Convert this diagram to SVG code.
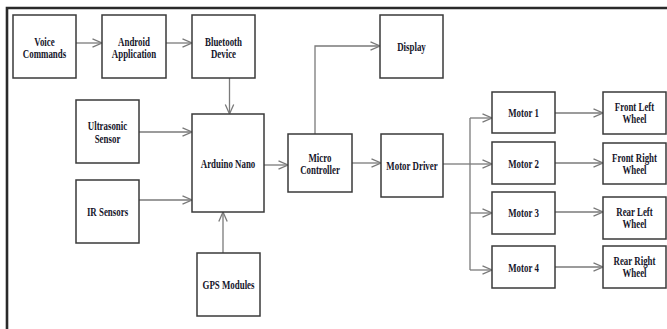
<svg xmlns="http://www.w3.org/2000/svg" width="667" height="329" viewBox="0 0 667 329">
<style>
.box{fill:#fff;stroke:#3a3a3a;stroke-width:1.5}
.lbl{font-family:"Liberation Serif","Times New Roman",serif;font-weight:bold;font-size:12px;fill:#15152a;text-anchor:middle}
.con{fill:none;stroke:#7a7a7a;stroke-width:1.3}
.arr{marker-end:url(#ah)}
</style>
<defs>
<marker id="ah" markerUnits="userSpaceOnUse" markerWidth="12" markerHeight="12" viewBox="0 0 12 12" refX="10.5" refY="6" orient="auto">
<path d="M1,1.8 L10.5,6 L1,10.2" fill="none" stroke="#7a7a7a" stroke-width="1.3"/>
</marker>
</defs>
<rect x="0" y="0" width="667" height="329" fill="#fff"/>
<path d="M7,329 V8 H667" fill="none" stroke="#2a2a2a" stroke-width="2.6"/>

<g id="connectors">
<line class="con arr" x1="76" y1="43" x2="102" y2="43"/>
<line class="con arr" x1="166" y1="43" x2="192" y2="43"/>
<line class="con arr" x1="229.5" y1="78" x2="229.5" y2="114"/>
<line class="con arr" x1="139" y1="132" x2="192" y2="132"/>
<line class="con arr" x1="139" y1="200" x2="192" y2="200"/>
<line class="con arr" x1="223" y1="253" x2="223" y2="212"/>
<line class="con arr" x1="264" y1="165" x2="288" y2="165"/>
<polyline class="con arr" points="315,134 315,46 380,46"/>
<line class="con arr" x1="352" y1="163" x2="381" y2="163"/>
<line class="con" x1="443" y1="164" x2="470" y2="164"/>
<line class="con" x1="470" y1="118" x2="470" y2="270"/>
<line class="con arr" x1="470" y1="118" x2="492" y2="118"/>
<line class="con arr" x1="470" y1="164" x2="492" y2="164"/>
<line class="con arr" x1="470" y1="213" x2="492" y2="213"/>
<line class="con arr" x1="470" y1="270" x2="492" y2="270"/>
<line class="con arr" x1="555" y1="113" x2="603" y2="113"/>
<line class="con arr" x1="555" y1="163" x2="603" y2="163"/>
<line class="con arr" x1="555" y1="212" x2="603" y2="212"/>
<line class="con arr" x1="555" y1="267" x2="603" y2="267"/>
</g>

<g id="voice"><rect class="box" x="13" y="15" width="63" height="63"/><text class="lbl" transform="matrix(0.74 0 0 1 44.5 45.5)">Voice</text><text class="lbl" transform="matrix(0.74 0 0 1 44.5 58)">Commands</text></g>
<g id="android"><rect class="box" x="102" y="15" width="64" height="63"/><text class="lbl" transform="matrix(0.74 0 0 1 134 45.5)">Android</text><text class="lbl" transform="matrix(0.74 0 0 1 134 58)">Application</text></g>
<g id="bluetooth"><rect class="box" x="192" y="15" width="63" height="63"/><text class="lbl" transform="matrix(0.74 0 0 1 223.5 45.5)">Bluetooth</text><text class="lbl" transform="matrix(0.74 0 0 1 223.5 58)">Device</text></g>
<g id="display"><rect class="box" x="380" y="15" width="63" height="63"/><text class="lbl" transform="matrix(0.74 0 0 1 411.5 51)">Display</text></g>
<g id="ultrasonic"><rect class="box" x="76" y="100" width="63" height="63"/><text class="lbl" transform="matrix(0.74 0 0 1 107.5 130)">Ultrasonic</text><text class="lbl" transform="matrix(0.74 0 0 1 107.5 142.5)">Sensor</text></g>
<g id="ir"><rect class="box" x="76" y="180" width="63" height="63"/><text class="lbl" transform="matrix(0.74 0 0 1 107.5 216)">IR Sensors</text></g>
<g id="arduino"><rect class="box" x="192" y="114" width="72" height="98"/><text class="lbl" transform="matrix(0.74 0 0 1 228 168)">Arduino Nano</text></g>
<g id="gps"><rect class="box" x="197" y="253" width="63" height="63"/><text class="lbl" transform="matrix(0.74 0 0 1 228.5 289)">GPS Modules</text></g>
<g id="micro"><rect class="box" x="288" y="134" width="64" height="58"/><text class="lbl" transform="matrix(0.74 0 0 1 320 161.5)">Micro</text><text class="lbl" transform="matrix(0.74 0 0 1 320 174)">Controller</text></g>
<g id="driver"><rect class="box" x="381" y="134" width="62" height="63"/><text class="lbl" transform="matrix(0.74 0 0 1 412 170)">Motor Driver</text></g>
<g id="motor1"><rect class="box" x="492" y="92" width="63" height="41"/><text class="lbl" transform="matrix(0.74 0 0 1 523.5 117)">Motor 1</text></g>
<g id="motor2"><rect class="box" x="492" y="142" width="63" height="42"/><text class="lbl" transform="matrix(0.74 0 0 1 523.5 167.5)">Motor 2</text></g>
<g id="motor3"><rect class="box" x="492" y="192" width="63" height="42"/><text class="lbl" transform="matrix(0.74 0 0 1 523.5 217)">Motor 3</text></g>
<g id="motor4"><rect class="box" x="492" y="246" width="63" height="42"/><text class="lbl" transform="matrix(0.74 0 0 1 523.5 271.5)">Motor 4</text></g>
<g id="fl"><rect class="box" x="603" y="92" width="63" height="42"/><text class="lbl" transform="matrix(0.74 0 0 1 634.5 111)">Front Left</text><text class="lbl" transform="matrix(0.74 0 0 1 634.5 123)">Wheel</text></g>
<g id="fr"><rect class="box" x="603" y="143" width="63" height="41"/><text class="lbl" transform="matrix(0.74 0 0 1 634.5 161.5)">Front Right</text><text class="lbl" transform="matrix(0.74 0 0 1 634.5 173.5)">Wheel</text></g>
<g id="rl"><rect class="box" x="603" y="197" width="63" height="42"/><text class="lbl" transform="matrix(0.74 0 0 1 634.5 215.5)">Rear Left</text><text class="lbl" transform="matrix(0.74 0 0 1 634.5 227.5)">Wheel</text></g>
<g id="rr"><rect class="box" x="603" y="246" width="63" height="42"/><text class="lbl" transform="matrix(0.74 0 0 1 634.5 264.5)">Rear Right</text><text class="lbl" transform="matrix(0.74 0 0 1 634.5 276.5)">Wheel</text></g>
</svg>
